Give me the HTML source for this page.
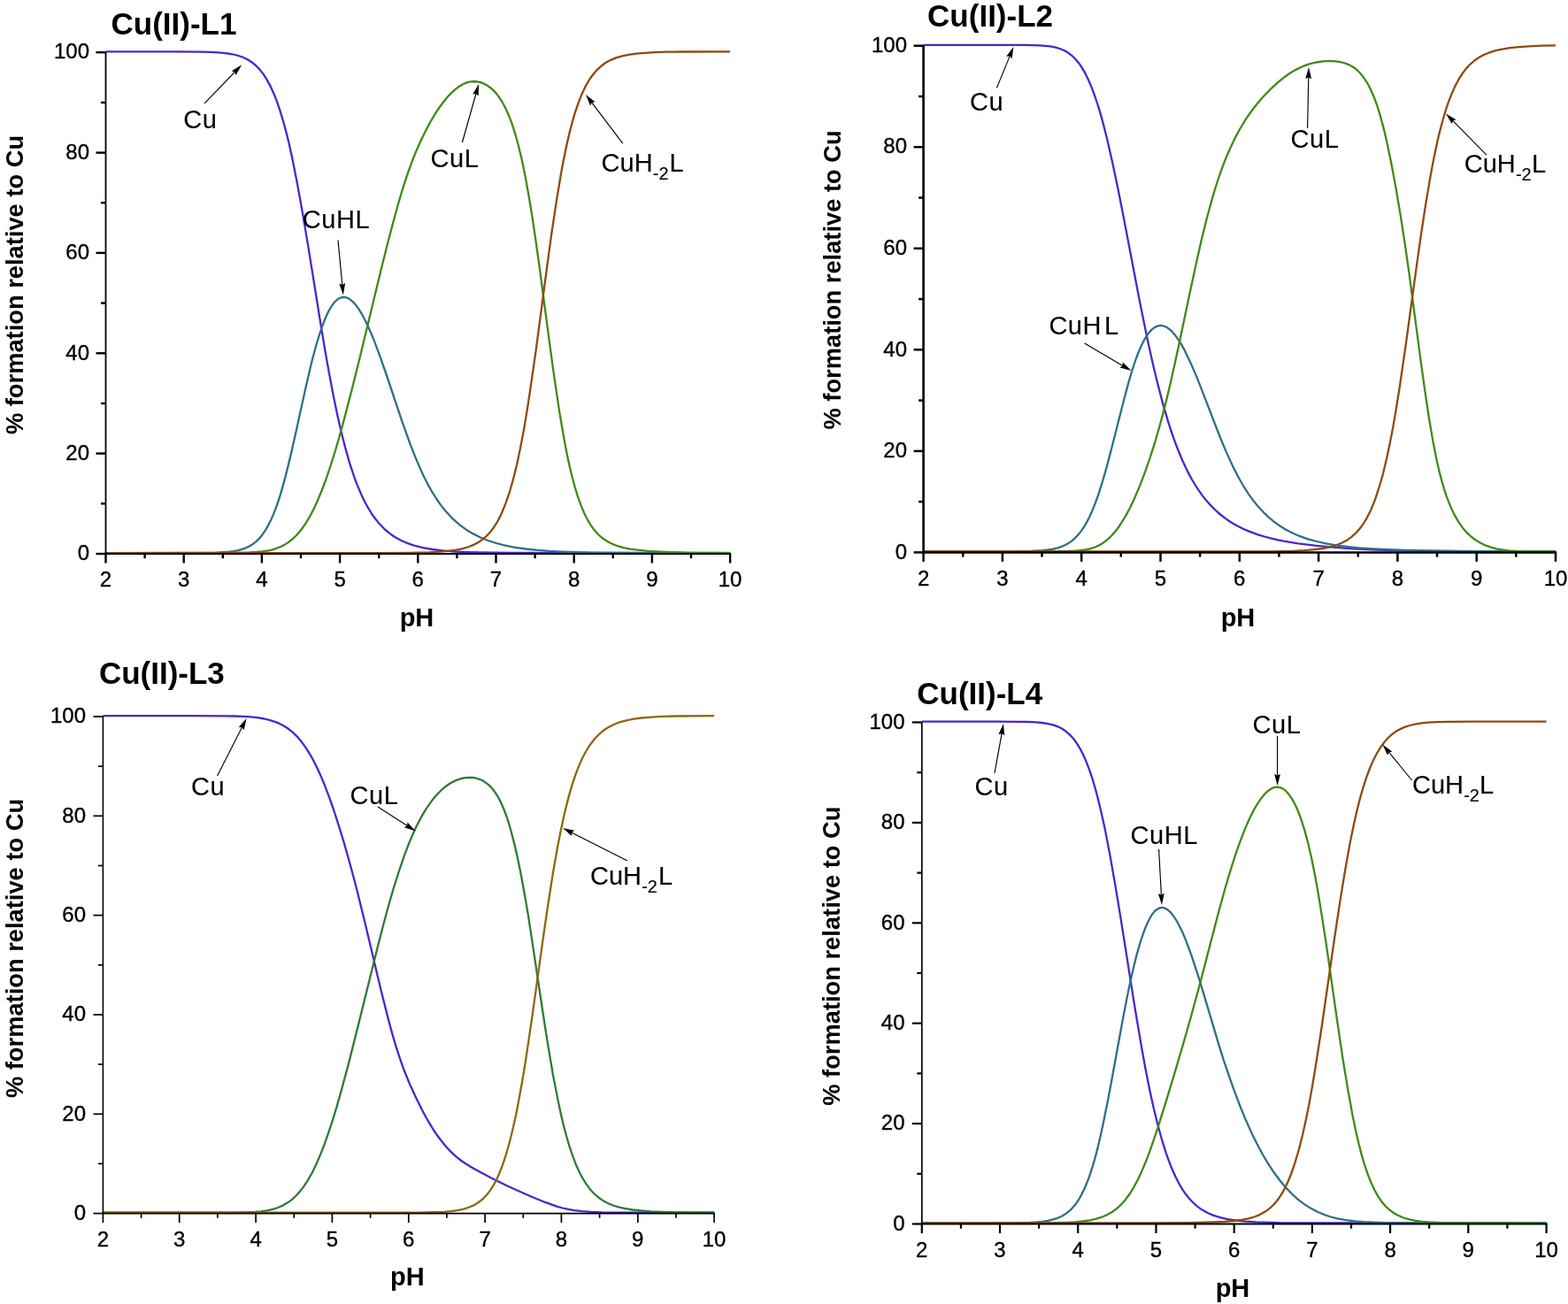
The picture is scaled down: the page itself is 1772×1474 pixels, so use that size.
<!DOCTYPE html>
<html><head><meta charset="utf-8"><title>Cu(II) speciation</title>
<style>
html,body{margin:0;padding:0;background:#fff;}
svg{display:block;}
text{font-family:'Liberation Sans', Arial, Helvetica, sans-serif;fill:#000;}
.tk{stroke:#000;stroke-width:0.35px;}
.lb{stroke:#000;stroke-width:0.1px;}
</style></head>
<body>
<svg width="1772" height="1474" viewBox="0 0 1772 1474">
<rect width="1772" height="1474" fill="#fff"/>
<g transform="translate(0,-0.9)">
<path d="M119.5,59.2 L196.9,59.2 L226.9,59.5 L237.9,59.8 L246.9,60.3 L254.4,61.0 L261.1,61.9 L267.9,63.4 L273.9,65.4 L279.4,67.9 L284.4,71.1 L289.1,74.9 L293.5,79.5 L297.7,84.8 L301.6,91.0 L305.6,98.3 L309.4,106.6 L312.9,115.5 L316.4,125.8 L319.9,137.4 L323.5,150.5 L326.8,164.0 L330.3,179.9 L336.0,208.6 L342.2,243.0 L348.2,278.8 L363.4,373.4 L367.8,399.5 L372.0,423.0 L376.6,447.4 L381.0,468.7 L385.4,488.2 L390.1,506.5 L395.3,525.0 L400.6,540.9 L403.3,548.0 L406.2,555.0 L409.0,561.5 L411.9,567.4 L415.0,573.2 L418.1,578.4 L421.1,583.2 L424.5,587.7 L427.8,591.8 L431.3,595.7 L435.0,599.4 L438.8,602.6 L442.1,605.1 L445.4,607.4 L448.9,609.5 L452.5,611.4 L456.2,613.2 L460.2,614.8 L464.4,616.3 L468.8,617.7 L478.0,620.0 L488.6,621.9 L500.5,623.3 L514.2,624.4 L526.5,625.0 L540.9,625.4 L578.8,625.9 L825.1,626.0" fill="none" stroke="#4a26cc" stroke-width="2.3" stroke-linejoin="round"/>
<path d="M119.5,626.0 L226.7,625.9 L245.0,625.5 L257.5,624.8 L263.7,624.0 L269.0,623.1 L273.6,621.8 L278.0,620.2 L282.2,618.2 L286.0,615.8 L289.5,613.0 L292.8,609.8 L296.3,605.6 L299.6,600.8 L302.7,595.6 L305.8,589.5 L308.9,582.5 L312.0,574.5 L314.9,566.2 L318.0,556.3 L322.8,538.8 L328.1,517.3 L333.2,495.0 L344.9,441.6 L351.2,414.3 L354.3,402.2 L357.4,390.9 L360.5,380.6 L363.4,371.9 L366.5,363.6 L369.5,356.4 L372.6,350.4 L375.7,345.5 L378.8,341.7 L380.4,340.2 L381.9,339.0 L383.4,338.1 L385.0,337.4 L386.5,337.0 L388.3,336.8 L389.8,336.9 L391.6,337.3 L393.1,337.9 L394.9,338.9 L398.2,341.5 L401.7,345.2 L405.3,350.0 L408.8,355.7 L412.5,362.7 L416.5,371.1 L419.8,378.7 L423.1,386.8 L430.2,405.7 L437.0,425.4 L454.4,477.3 L459.3,491.1 L463.9,503.7 L469.0,516.7 L473.8,528.2 L478.7,538.8 L483.3,548.0 L488.2,556.7 L493.0,564.4 L498.3,572.0 L503.6,578.6 L509.1,584.7 L514.9,590.2 L520.8,595.2 L527.2,599.8 L534.7,604.3 L542.9,608.4 L551.5,611.9 L560.9,614.9 L571.1,617.5 L582.1,619.7 L594.2,621.4 L607.5,622.8 L620.5,623.8 L635.2,624.5 L652.2,625.1 L672.3,625.5 L724.8,625.9 L825.1,626.0" fill="none" stroke="#2f6f86" stroke-width="2.3" stroke-linejoin="round"/>
<path d="M119.5,626.0 L260.0,625.9 L281.8,625.4 L289.7,624.9 L296.3,624.3 L303.6,623.2 L309.8,621.7 L315.5,619.6 L321.0,617.0 L326.1,613.8 L331.0,609.9 L335.6,605.4 L340.2,599.9 L345.1,593.1 L349.9,585.1 L354.8,575.8 L359.4,565.7 L364.0,554.4 L368.9,541.3 L373.7,526.9 L378.6,511.4 L382.8,497.1 L387.2,481.3 L396.9,444.3 L406.2,406.9 L430.6,305.8 L437.9,276.7 L443.9,253.8 L449.8,232.2 L455.3,213.6 L460.8,196.8 L466.1,182.2 L470.1,172.3 L474.1,163.2 L478.5,153.8 L482.9,145.1 L487.5,136.7 L491.9,129.4 L496.3,122.7 L501.0,116.4 L505.6,110.7 L510.0,106.0 L514.4,102.0 L518.6,98.8 L523.0,96.1 L527.2,94.3 L531.4,93.2 L535.6,92.9 L539.6,93.2 L543.3,94.1 L547.0,95.5 L550.8,97.6 L554.3,100.1 L557.9,103.3 L561.2,106.9 L564.2,111.0 L567.1,115.4 L570.0,120.6 L572.8,126.5 L575.5,132.6 L578.1,139.6 L580.8,147.5 L583.2,155.6 L585.6,164.5 L589.6,181.0 L593.6,200.1 L597.5,221.9 L601.5,246.2 L605.0,269.7 L608.8,296.4 L621.6,392.8 L626.9,431.0 L632.4,467.6 L637.5,497.2 L640.5,513.2 L643.6,527.6 L646.7,540.4 L649.8,551.9 L653.1,562.6 L656.4,571.8 L659.9,580.3 L663.7,587.9 L667.4,594.2 L671.6,600.0 L676.0,604.9 L680.9,609.2 L686.0,612.7 L691.7,615.7 L697.9,618.1 L704.7,620.0 L712.2,621.5 L720.6,622.6 L732.3,623.7 L745.7,624.5 L760.3,625.1 L777.3,625.5 L825.1,625.9" fill="none" stroke="#3f8a16" stroke-width="2.3" stroke-linejoin="round"/>
<path d="M119.5,626.0 L425.8,626.0 L461.9,625.7 L484.6,625.2 L496.8,624.6 L506.9,623.7 L515.5,622.5 L523.0,621.0 L529.9,618.9 L535.8,616.5 L541.1,613.6 L546.2,610.0 L549.3,607.3 L552.1,604.4 L555.0,601.1 L557.6,597.6 L560.3,593.6 L562.7,589.4 L565.1,584.8 L567.3,580.2 L571.7,569.3 L576.2,556.2 L580.3,541.4 L584.3,525.1 L587.8,508.5 L591.4,490.0 L594.9,469.5 L598.6,445.8 L605.5,398.0 L618.3,301.8 L623.3,265.1 L628.9,228.1 L634.1,196.6 L637.2,180.2 L640.5,164.3 L643.6,151.0 L646.9,138.3 L650.2,127.1 L653.8,116.7 L657.3,107.8 L661.0,99.8 L665.0,92.6 L669.2,86.4 L673.8,80.8 L678.7,76.2 L681.3,74.1 L684.0,72.2 L686.8,70.5 L689.7,69.0 L696.1,66.3 L703.2,64.2 L710.4,62.7 L718.8,61.6 L728.5,60.7 L740.0,60.0 L753.0,59.6 L769.5,59.4 L825.1,59.2" fill="none" stroke="#8e4a10" stroke-width="2.3" stroke-linejoin="round"/>
</g>
<line x1="119.5" y1="58.7" x2="119.5" y2="626.5" stroke="#000" stroke-width="1.8"/>
<line x1="118.6" y1="626.0" x2="826.1" y2="626.0" stroke="#000" stroke-width="2.0"/>
<line x1="108.5" y1="626.0" x2="119.5" y2="626.0" stroke="#000" stroke-width="2.4"/>
<text x="101.0" y="633.2" font-size="24" class="tk" text-anchor="end">0</text>
<line x1="114.0" y1="569.3" x2="119.5" y2="569.3" stroke="#000" stroke-width="2.4"/>
<line x1="108.5" y1="512.6" x2="119.5" y2="512.6" stroke="#000" stroke-width="2.4"/>
<text x="101.0" y="519.8" font-size="24" class="tk" text-anchor="end">20</text>
<line x1="114.0" y1="456.0" x2="119.5" y2="456.0" stroke="#000" stroke-width="2.4"/>
<line x1="108.5" y1="399.3" x2="119.5" y2="399.3" stroke="#000" stroke-width="2.4"/>
<text x="101.0" y="406.5" font-size="24" class="tk" text-anchor="end">40</text>
<line x1="114.0" y1="342.6" x2="119.5" y2="342.6" stroke="#000" stroke-width="2.4"/>
<line x1="108.5" y1="285.9" x2="119.5" y2="285.9" stroke="#000" stroke-width="2.4"/>
<text x="101.0" y="293.1" font-size="24" class="tk" text-anchor="end">60</text>
<line x1="114.0" y1="229.2" x2="119.5" y2="229.2" stroke="#000" stroke-width="2.4"/>
<line x1="108.5" y1="172.6" x2="119.5" y2="172.6" stroke="#000" stroke-width="2.4"/>
<text x="101.0" y="179.8" font-size="24" class="tk" text-anchor="end">80</text>
<line x1="114.0" y1="115.9" x2="119.5" y2="115.9" stroke="#000" stroke-width="2.4"/>
<line x1="108.5" y1="59.2" x2="119.5" y2="59.2" stroke="#000" stroke-width="2.4"/>
<text x="101.0" y="66.4" font-size="24" class="tk" text-anchor="end">100</text>
<line x1="119.5" y1="626.0" x2="119.5" y2="636.5" stroke="#000" stroke-width="2.4"/>
<text x="119.5" y="663.3" font-size="24" class="tk" text-anchor="middle">2</text>
<line x1="163.6" y1="626.0" x2="163.6" y2="631.2" stroke="#000" stroke-width="2.4"/>
<line x1="207.7" y1="626.0" x2="207.7" y2="636.5" stroke="#000" stroke-width="2.4"/>
<text x="207.7" y="663.3" font-size="24" class="tk" text-anchor="middle">3</text>
<line x1="251.8" y1="626.0" x2="251.8" y2="631.2" stroke="#000" stroke-width="2.4"/>
<line x1="295.9" y1="626.0" x2="295.9" y2="636.5" stroke="#000" stroke-width="2.4"/>
<text x="295.9" y="663.3" font-size="24" class="tk" text-anchor="middle">4</text>
<line x1="340.0" y1="626.0" x2="340.0" y2="631.2" stroke="#000" stroke-width="2.4"/>
<line x1="384.1" y1="626.0" x2="384.1" y2="636.5" stroke="#000" stroke-width="2.4"/>
<text x="384.1" y="663.3" font-size="24" class="tk" text-anchor="middle">5</text>
<line x1="428.2" y1="626.0" x2="428.2" y2="631.2" stroke="#000" stroke-width="2.4"/>
<line x1="472.3" y1="626.0" x2="472.3" y2="636.5" stroke="#000" stroke-width="2.4"/>
<text x="472.3" y="663.3" font-size="24" class="tk" text-anchor="middle">6</text>
<line x1="516.4" y1="626.0" x2="516.4" y2="631.2" stroke="#000" stroke-width="2.4"/>
<line x1="560.5" y1="626.0" x2="560.5" y2="636.5" stroke="#000" stroke-width="2.4"/>
<text x="560.5" y="663.3" font-size="24" class="tk" text-anchor="middle">7</text>
<line x1="604.6" y1="626.0" x2="604.6" y2="631.2" stroke="#000" stroke-width="2.4"/>
<line x1="648.7" y1="626.0" x2="648.7" y2="636.5" stroke="#000" stroke-width="2.4"/>
<text x="648.7" y="663.3" font-size="24" class="tk" text-anchor="middle">8</text>
<line x1="692.8" y1="626.0" x2="692.8" y2="631.2" stroke="#000" stroke-width="2.4"/>
<line x1="736.9" y1="626.0" x2="736.9" y2="636.5" stroke="#000" stroke-width="2.4"/>
<text x="736.9" y="663.3" font-size="24" class="tk" text-anchor="middle">9</text>
<line x1="781.0" y1="626.0" x2="781.0" y2="631.2" stroke="#000" stroke-width="2.4"/>
<line x1="825.1" y1="626.0" x2="825.1" y2="636.5" stroke="#000" stroke-width="2.4"/>
<text x="825.1" y="663.3" font-size="24" class="tk" text-anchor="middle">10</text>
<text transform="translate(26.4,322.0) rotate(-90)" font-size="27.3" font-weight="bold" text-anchor="middle">% formation relative to Cu</text>
<text x="471.0" y="708.1" font-size="29" font-weight="bold" text-anchor="middle">pH</text>
<text x="125.5" y="38.9" font-size="35" font-weight="bold">Cu(II)-L1</text>
<text x="207.3" y="145.4" font-size="29" class="lb" letter-spacing="0.6">Cu</text>
<text x="341.7" y="257.6" font-size="29" class="lb" letter-spacing="0.6">CuHL</text>
<text x="486.4" y="189.0" font-size="29" class="lb" letter-spacing="0.6">CuL</text>
<text x="679.6" y="193.5" font-size="29" class="lb">CuH<tspan x="737.8" font-size="20" dy="9">-2</tspan><tspan x="756.5" dy="-9">L</tspan></text>
<line x1="231.1" y1="116.9" x2="265.3" y2="81.4" stroke="#000" stroke-width="1.15"/><polygon points="273.2,73.2 266.6,84.9 265.3,81.4 261.7,80.2" fill="#000"/>
<line x1="382.0" y1="271.4" x2="386.8" y2="322.0" stroke="#000" stroke-width="1.15"/><polygon points="387.9,333.4 383.3,320.8 386.8,322.0 390.1,320.1" fill="#000"/>
<line x1="522.4" y1="161.0" x2="537.9" y2="106.0" stroke="#000" stroke-width="1.15"/><polygon points="541.0,95.0 540.7,108.4 537.9,106.0 534.2,106.6" fill="#000"/>
<line x1="703.8" y1="162.2" x2="668.9" y2="116.1" stroke="#000" stroke-width="1.15"/><polygon points="662.0,107.0 672.6,115.3 668.9,116.1 667.1,119.4" fill="#000"/>
<g transform="translate(0,-0.9)">
<path d="M1043.6,51.7 L1158.1,51.8 L1175.1,52.3 L1181.3,52.7 L1186.5,53.3 L1192.3,54.3 L1197.6,55.9 L1202.6,57.9 L1207.0,60.5 L1211.3,63.7 L1215.3,67.6 L1219.1,72.1 L1222.6,77.3 L1226.4,83.8 L1230.0,91.1 L1233.6,99.5 L1236.9,108.4 L1240.3,118.4 L1243.9,130.3 L1247.2,142.5 L1250.8,156.6 L1256.8,182.8 L1263.3,213.7 L1269.8,246.6 L1287.6,339.7 L1293.2,367.5 L1298.1,390.9 L1303.7,415.8 L1309.3,438.7 L1314.6,458.8 L1320.2,477.7 L1323.3,487.4 L1326.7,497.2 L1329.8,505.6 L1333.2,514.1 L1336.5,521.9 L1339.9,529.2 L1343.4,536.3 L1347.0,542.9 L1350.6,548.9 L1354.4,554.8 L1358.4,560.5 L1362.4,565.6 L1366.6,570.5 L1371.1,575.2 L1375.6,579.4 L1380.3,583.4 L1384.7,586.8 L1389.4,590.1 L1394.3,593.1 L1399.5,595.9 L1404.8,598.6 L1410.4,601.0 L1416.2,603.3 L1422.5,605.5 L1428.9,607.4 L1435.9,609.3 L1443.0,611.0 L1450.6,612.5 L1467.1,615.3 L1485.9,617.6 L1506.6,619.6 L1529.8,621.2 L1555.7,622.4 L1584.5,623.3 L1611.5,623.8 L1645.3,624.1 L1758.0,624.4" fill="none" stroke="#4a26cc" stroke-width="2.3" stroke-linejoin="round"/>
<path d="M1043.6,624.4 L1146.5,624.3 L1165.3,623.9 L1178.4,623.1 L1184.7,622.4 L1190.3,621.5 L1195.2,620.3 L1199.7,618.8 L1203.9,616.9 L1207.7,614.8 L1211.3,612.3 L1214.8,609.2 L1218.4,605.5 L1222.0,601.0 L1225.3,596.0 L1228.5,590.6 L1231.6,584.4 L1234.7,577.4 L1237.8,569.5 L1241.0,560.8 L1246.1,544.7 L1251.7,525.0 L1256.8,505.4 L1268.9,457.6 L1275.1,434.3 L1278.2,423.6 L1281.1,414.4 L1284.0,405.9 L1286.7,398.9 L1289.6,392.1 L1292.7,385.8 L1295.9,380.5 L1299.0,376.3 L1302.1,373.0 L1305.2,370.8 L1306.8,370.0 L1308.4,369.4 L1309.9,369.0 L1311.7,368.9 L1313.3,369.0 L1314.8,369.4 L1316.4,369.9 L1318.2,370.7 L1321.5,373.0 L1324.9,376.1 L1328.2,380.0 L1331.8,385.0 L1335.4,390.8 L1339.2,397.8 L1345.4,410.8 L1352.4,427.0 L1358.8,443.3 L1375.8,487.4 L1380.9,500.2 L1385.6,511.3 L1390.8,522.8 L1395.9,533.3 L1400.8,542.6 L1405.7,551.1 L1410.8,559.0 L1416.2,566.5 L1421.8,573.4 L1427.6,579.7 L1433.4,585.3 L1439.6,590.5 L1446.1,595.2 L1452.8,599.3 L1460.6,603.4 L1469.1,607.1 L1478.0,610.2 L1487.9,612.9 L1498.4,615.3 L1509.7,617.2 L1522.2,618.8 L1536.3,620.2 L1551.3,621.2 L1568.2,622.1 L1587.2,622.7 L1611.1,623.2 L1670.7,624.0 L1758.0,624.3" fill="none" stroke="#2f6f86" stroke-width="2.3" stroke-linejoin="round"/>
<path d="M1043.6,624.4 L1186.9,624.3 L1207.2,623.9 L1214.4,623.6 L1220.4,623.1 L1227.1,622.2 L1232.7,621.0 L1237.6,619.4 L1242.1,617.3 L1246.8,614.5 L1251.2,611.1 L1255.7,606.9 L1259.9,602.2 L1262.8,598.5 L1265.7,594.4 L1271.3,585.5 L1276.9,575.1 L1282.7,562.8 L1288.5,549.0 L1294.3,533.8 L1300.1,516.9 L1305.7,499.2 L1309.9,484.6 L1314.2,469.0 L1318.4,452.3 L1322.7,434.4 L1330.9,397.2 L1345.7,327.0 L1351.5,300.1 L1357.7,272.5 L1363.5,248.9 L1370.2,224.3 L1373.3,213.9 L1376.7,203.4 L1380.0,193.8 L1383.6,184.2 L1387.2,175.4 L1390.8,167.3 L1396.1,156.2 L1401.7,145.9 L1407.7,136.0 L1414.0,126.9 L1420.7,118.2 L1427.8,109.9 L1435.4,102.1 L1443.4,94.7 L1450.8,88.6 L1457.7,83.7 L1464.9,79.5 L1472.0,76.1 L1479.6,73.3 L1487.2,71.4 L1495.0,70.2 L1502.6,69.8 L1508.2,70.0 L1513.5,70.7 L1518.5,71.9 L1523.1,73.5 L1527.4,75.6 L1531.2,78.1 L1534.8,81.2 L1538.1,84.7 L1541.4,89.0 L1544.6,93.7 L1547.7,99.4 L1550.6,105.6 L1553.5,112.6 L1556.2,120.1 L1558.9,128.5 L1561.5,137.8 L1564.0,147.3 L1566.7,158.6 L1571.8,182.9 L1577.4,212.8 L1583.0,246.0 L1587.7,276.5 L1592.6,310.8 L1605.7,409.8 L1610.2,442.1 L1614.7,471.9 L1618.9,497.0 L1621.4,510.0 L1624.0,522.9 L1626.5,533.6 L1629.2,544.0 L1631.9,553.2 L1634.8,562.0 L1637.7,569.7 L1640.8,577.0 L1644.6,584.6 L1648.6,591.3 L1652.8,597.3 L1657.5,602.8 L1662.4,607.4 L1667.6,611.4 L1673.2,614.7 L1679.2,617.6 L1685.0,619.6 L1691.0,621.2 L1697.7,622.4 L1704.9,623.3 L1713.1,623.8 L1723.4,624.1 L1758.0,624.4" fill="none" stroke="#3f8a16" stroke-width="2.3" stroke-linejoin="round"/>
<path d="M1043.6,624.4 L1397.5,624.4 L1436.5,624.2 L1461.1,623.7 L1474.2,623.0 L1485.2,622.1 L1494.6,620.9 L1502.8,619.2 L1510.0,617.2 L1516.2,614.7 L1522.0,611.6 L1524.7,609.8 L1527.4,607.8 L1530.5,605.1 L1533.6,602.0 L1536.5,598.6 L1539.2,595.1 L1541.9,591.0 L1544.6,586.5 L1547.0,581.8 L1549.5,576.6 L1551.9,570.8 L1554.2,565.0 L1558.6,551.6 L1562.9,536.6 L1567.1,519.0 L1570.7,502.2 L1574.3,483.5 L1577.8,463.0 L1581.4,440.7 L1588.3,393.5 L1600.8,302.3 L1605.7,267.6 L1611.1,232.3 L1616.0,203.0 L1618.9,187.3 L1621.8,172.8 L1624.7,159.5 L1627.8,146.6 L1631.0,134.9 L1634.1,124.6 L1637.2,115.4 L1640.6,106.8 L1644.4,98.3 L1648.2,91.1 L1652.2,84.7 L1656.6,78.8 L1661.3,73.7 L1666.2,69.4 L1671.6,65.7 L1677.4,62.6 L1683.4,60.2 L1690.1,58.1 L1697.7,56.5 L1706.2,55.1 L1716.5,54.0 L1728.1,53.2 L1741.7,52.6 L1758.0,52.2" fill="none" stroke="#8e4a10" stroke-width="2.3" stroke-linejoin="round"/>
</g>
<line x1="1043.6" y1="51.2" x2="1043.6" y2="624.9" stroke="#000" stroke-width="2.6"/>
<line x1="1042.3" y1="624.4" x2="1759.2" y2="624.4" stroke="#000" stroke-width="2.5"/>
<line x1="1032.6" y1="624.4" x2="1043.6" y2="624.4" stroke="#000" stroke-width="2.5"/>
<text x="1025.0" y="631.6" font-size="24" class="tk" text-anchor="end">0</text>
<line x1="1038.1" y1="567.1" x2="1043.6" y2="567.1" stroke="#000" stroke-width="2.5"/>
<line x1="1032.6" y1="509.9" x2="1043.6" y2="509.9" stroke="#000" stroke-width="2.5"/>
<text x="1025.0" y="517.1" font-size="24" class="tk" text-anchor="end">20</text>
<line x1="1038.1" y1="452.6" x2="1043.6" y2="452.6" stroke="#000" stroke-width="2.5"/>
<line x1="1032.6" y1="395.3" x2="1043.6" y2="395.3" stroke="#000" stroke-width="2.5"/>
<text x="1025.0" y="402.5" font-size="24" class="tk" text-anchor="end">40</text>
<line x1="1038.1" y1="338.1" x2="1043.6" y2="338.1" stroke="#000" stroke-width="2.5"/>
<line x1="1032.6" y1="280.8" x2="1043.6" y2="280.8" stroke="#000" stroke-width="2.5"/>
<text x="1025.0" y="288.0" font-size="24" class="tk" text-anchor="end">60</text>
<line x1="1038.1" y1="223.5" x2="1043.6" y2="223.5" stroke="#000" stroke-width="2.5"/>
<line x1="1032.6" y1="166.2" x2="1043.6" y2="166.2" stroke="#000" stroke-width="2.5"/>
<text x="1025.0" y="173.4" font-size="24" class="tk" text-anchor="end">80</text>
<line x1="1038.1" y1="109.0" x2="1043.6" y2="109.0" stroke="#000" stroke-width="2.5"/>
<line x1="1032.6" y1="51.7" x2="1043.6" y2="51.7" stroke="#000" stroke-width="2.5"/>
<text x="1025.0" y="58.9" font-size="24" class="tk" text-anchor="end">100</text>
<line x1="1043.6" y1="624.4" x2="1043.6" y2="634.9" stroke="#000" stroke-width="2.5"/>
<text x="1043.6" y="661.7" font-size="24" class="tk" text-anchor="middle">2</text>
<line x1="1088.2" y1="624.4" x2="1088.2" y2="629.6" stroke="#000" stroke-width="2.5"/>
<line x1="1132.9" y1="624.4" x2="1132.9" y2="634.9" stroke="#000" stroke-width="2.5"/>
<text x="1132.9" y="661.7" font-size="24" class="tk" text-anchor="middle">3</text>
<line x1="1177.5" y1="624.4" x2="1177.5" y2="629.6" stroke="#000" stroke-width="2.5"/>
<line x1="1222.2" y1="624.4" x2="1222.2" y2="634.9" stroke="#000" stroke-width="2.5"/>
<text x="1222.2" y="661.7" font-size="24" class="tk" text-anchor="middle">4</text>
<line x1="1266.8" y1="624.4" x2="1266.8" y2="629.6" stroke="#000" stroke-width="2.5"/>
<line x1="1311.5" y1="624.4" x2="1311.5" y2="634.9" stroke="#000" stroke-width="2.5"/>
<text x="1311.5" y="661.7" font-size="24" class="tk" text-anchor="middle">5</text>
<line x1="1356.1" y1="624.4" x2="1356.1" y2="629.6" stroke="#000" stroke-width="2.5"/>
<line x1="1400.8" y1="624.4" x2="1400.8" y2="634.9" stroke="#000" stroke-width="2.5"/>
<text x="1400.8" y="661.7" font-size="24" class="tk" text-anchor="middle">6</text>
<line x1="1445.4" y1="624.4" x2="1445.4" y2="629.6" stroke="#000" stroke-width="2.5"/>
<line x1="1490.1" y1="624.4" x2="1490.1" y2="634.9" stroke="#000" stroke-width="2.5"/>
<text x="1490.1" y="661.7" font-size="24" class="tk" text-anchor="middle">7</text>
<line x1="1534.8" y1="624.4" x2="1534.8" y2="629.6" stroke="#000" stroke-width="2.5"/>
<line x1="1579.4" y1="624.4" x2="1579.4" y2="634.9" stroke="#000" stroke-width="2.5"/>
<text x="1579.4" y="661.7" font-size="24" class="tk" text-anchor="middle">8</text>
<line x1="1624.0" y1="624.4" x2="1624.0" y2="629.6" stroke="#000" stroke-width="2.5"/>
<line x1="1668.7" y1="624.4" x2="1668.7" y2="634.9" stroke="#000" stroke-width="2.5"/>
<text x="1668.7" y="661.7" font-size="24" class="tk" text-anchor="middle">9</text>
<line x1="1713.3" y1="624.4" x2="1713.3" y2="629.6" stroke="#000" stroke-width="2.5"/>
<line x1="1758.0" y1="624.4" x2="1758.0" y2="634.9" stroke="#000" stroke-width="2.5"/>
<text x="1758.0" y="661.7" font-size="24" class="tk" text-anchor="middle">10</text>
<text transform="translate(949.7,316.4) rotate(-90)" font-size="27.3" font-weight="bold" text-anchor="middle">% formation relative to Cu</text>
<text x="1399.0" y="708.1" font-size="29" font-weight="bold" text-anchor="middle">pH</text>
<text x="1048.1" y="30.2" font-size="35" font-weight="bold">Cu(II)-L2</text>
<text x="1096.0" y="125.0" font-size="29" class="lb" letter-spacing="0.6">Cu</text>
<text x="1185.4" y="378.0" font-size="29" class="lb" letter-spacing="0.5">CuH<tspan dx="3">L</tspan></text>
<text x="1458.4" y="167.4" font-size="29" class="lb" letter-spacing="0.6">CuL</text>
<text x="1654.7" y="195.0" font-size="29" class="lb">CuH<tspan x="1712.9" font-size="20" dy="9">-2</tspan><tspan x="1731.1" dy="-9">L</tspan></text>
<line x1="1126.4" y1="99.4" x2="1141.1" y2="63.6" stroke="#000" stroke-width="1.15"/><polygon points="1145.4,53.0 1143.6,66.3 1141.1,63.6 1137.3,63.7" fill="#000"/>
<line x1="1225.6" y1="388.0" x2="1268.5" y2="413.2" stroke="#000" stroke-width="1.15"/><polygon points="1278.4,419.0 1265.5,415.4 1268.5,413.2 1268.9,409.5" fill="#000"/>
<line x1="1477.6" y1="145.0" x2="1478.8" y2="87.4" stroke="#000" stroke-width="1.15"/><polygon points="1479.0,76.0 1482.1,89.1 1478.8,87.4 1475.3,88.9" fill="#000"/>
<line x1="1679.9" y1="175.1" x2="1642.0" y2="136.6" stroke="#000" stroke-width="1.15"/><polygon points="1634.0,128.4 1645.5,135.3 1642.0,136.6 1640.7,140.1" fill="#000"/>
<g transform="translate(0,-0.9)">
<path d="M116.4,810.0 L218.9,810.0 L252.8,810.2 L265.3,810.4 L275.3,810.8 L283.5,811.3 L290.6,812.0 L298.8,813.4 L306.1,815.2 L312.8,817.5 L318.9,820.4 L324.7,823.9 L330.1,828.1 L335.3,833.0 L340.2,838.7 L345.6,846.0 L351.0,854.7 L356.2,864.4 L361.4,875.3 L366.6,887.7 L372.0,901.8 L377.6,917.9 L383.4,936.0 L388.4,952.3 L393.3,969.5 L398.3,987.6 L403.3,1006.6 L412.1,1042.4 L430.9,1121.6 L439.3,1154.8 L443.6,1170.5 L447.9,1185.0 L452.0,1197.6 L456.1,1209.1 L462.6,1225.3 L470.0,1241.5 L478.2,1257.9 L482.3,1265.4 L486.2,1272.0 L489.8,1277.9 L493.7,1283.7 L497.4,1288.7 L501.3,1293.7 L505.1,1298.2 L509.0,1302.3 L512.9,1306.0 L517.0,1309.5 L521.3,1312.9 L526.1,1316.2 L531.3,1319.4 L537.3,1323.0 L554.6,1332.2 L573.8,1341.6 L598.4,1352.6 L616.5,1360.1 L623.4,1362.6 L629.7,1364.7 L635.7,1366.4 L641.8,1367.8 L649.1,1369.1 L657.8,1370.1 L667.9,1370.8 L680.6,1371.2 L714.7,1371.5 L807.1,1371.6" fill="none" stroke="#4a26cc" stroke-width="2.3" stroke-linejoin="round"/>
<path d="M116.4,1371.6 L259.7,1371.5 L280.9,1371.1 L288.4,1370.7 L294.9,1370.2 L302.0,1369.2 L308.5,1367.7 L314.3,1365.9 L319.7,1363.5 L324.9,1360.5 L329.7,1357.0 L334.2,1352.9 L338.7,1348.0 L343.5,1341.8 L348.2,1334.5 L352.8,1326.4 L357.3,1317.1 L361.8,1306.7 L366.4,1295.1 L371.1,1281.8 L375.9,1267.2 L380.0,1253.8 L384.3,1238.8 L393.6,1204.5 L402.6,1168.8 L426.4,1072.9 L432.6,1048.6 L438.2,1027.7 L444.7,1005.2 L450.8,985.9 L456.8,968.3 L462.8,952.6 L466.5,944.0 L470.4,935.5 L474.3,927.8 L478.2,920.8 L482.0,914.5 L486.2,908.5 L490.3,903.1 L494.4,898.4 L498.7,894.1 L503.0,890.4 L507.5,887.2 L512.1,884.5 L516.6,882.5 L521.3,880.9 L526.1,880.0 L530.6,879.7 L534.5,879.9 L538.2,880.5 L541.8,881.7 L545.3,883.2 L548.5,885.2 L551.8,887.7 L554.8,890.6 L557.6,893.9 L560.2,897.5 L562.8,901.7 L565.4,906.5 L567.7,911.6 L570.1,917.4 L572.5,923.9 L574.9,931.2 L577.2,939.2 L581.1,954.0 L585.0,971.0 L588.9,990.1 L593.0,1012.6 L596.5,1033.0 L600.3,1057.5 L613.5,1145.4 L619.1,1181.3 L624.9,1215.6 L630.6,1244.8 L633.8,1259.8 L637.0,1273.4 L640.3,1285.7 L643.7,1297.3 L647.2,1307.6 L650.6,1316.6 L654.3,1324.9 L658.2,1332.4 L662.3,1339.0 L666.6,1344.8 L671.1,1349.9 L675.9,1354.1 L681.1,1357.8 L686.7,1360.9 L692.7,1363.4 L699.6,1365.5 L706.7,1367.1 L714.7,1368.4 L724.4,1369.4 L735.7,1370.2 L748.2,1370.8 L763.3,1371.2 L807.1,1371.5" fill="none" stroke="#2f7a36" stroke-width="2.3" stroke-linejoin="round"/>
<path d="M116.4,1371.6 L443.6,1371.6 L473.6,1371.5 L491.5,1371.1 L501.7,1370.7 L509.9,1370.0 L517.0,1369.0 L523.3,1367.7 L529.1,1365.9 L534.3,1363.8 L539.0,1361.1 L543.4,1358.0 L546.2,1355.6 L549.0,1352.7 L551.6,1349.7 L554.1,1346.2 L556.5,1342.6 L558.9,1338.5 L561.3,1333.9 L563.4,1329.3 L567.7,1318.6 L571.8,1306.3 L575.9,1291.9 L579.8,1276.0 L583.3,1260.1 L586.7,1242.3 L590.2,1222.9 L593.9,1200.6 L600.8,1154.5 L613.7,1062.0 L619.1,1024.9 L624.9,987.8 L630.3,957.1 L633.6,940.5 L636.8,925.4 L640.1,911.6 L643.5,898.5 L647.0,886.8 L650.4,876.5 L654.1,867.0 L658.0,858.2 L662.1,850.4 L666.6,843.1 L671.4,836.9 L676.3,831.5 L678.9,829.2 L681.7,826.9 L684.5,824.9 L687.5,823.0 L693.8,819.9 L697.3,818.4 L700.9,817.1 L708.0,815.2 L716.2,813.6 L725.3,812.4 L735.9,811.5 L748.0,810.8 L762.7,810.4 L807.1,810.1" fill="none" stroke="#8c680c" stroke-width="2.3" stroke-linejoin="round"/>
</g>
<line x1="116.4" y1="809.5" x2="116.4" y2="1372.1" stroke="#000" stroke-width="1.6"/>
<line x1="115.6" y1="1371.6" x2="808.0" y2="1371.6" stroke="#000" stroke-width="1.8"/>
<line x1="105.4" y1="1371.6" x2="116.4" y2="1371.6" stroke="#000" stroke-width="1.7"/>
<text x="97.0" y="1378.8" font-size="24" class="tk" text-anchor="end">0</text>
<line x1="110.9" y1="1315.4" x2="116.4" y2="1315.4" stroke="#000" stroke-width="1.7"/>
<line x1="105.4" y1="1259.3" x2="116.4" y2="1259.3" stroke="#000" stroke-width="1.7"/>
<text x="97.0" y="1266.5" font-size="24" class="tk" text-anchor="end">20</text>
<line x1="110.9" y1="1203.1" x2="116.4" y2="1203.1" stroke="#000" stroke-width="1.7"/>
<line x1="105.4" y1="1147.0" x2="116.4" y2="1147.0" stroke="#000" stroke-width="1.7"/>
<text x="97.0" y="1154.2" font-size="24" class="tk" text-anchor="end">40</text>
<line x1="110.9" y1="1090.8" x2="116.4" y2="1090.8" stroke="#000" stroke-width="1.7"/>
<line x1="105.4" y1="1034.6" x2="116.4" y2="1034.6" stroke="#000" stroke-width="1.7"/>
<text x="97.0" y="1041.8" font-size="24" class="tk" text-anchor="end">60</text>
<line x1="110.9" y1="978.5" x2="116.4" y2="978.5" stroke="#000" stroke-width="1.7"/>
<line x1="105.4" y1="922.3" x2="116.4" y2="922.3" stroke="#000" stroke-width="1.7"/>
<text x="97.0" y="929.5" font-size="24" class="tk" text-anchor="end">80</text>
<line x1="110.9" y1="866.2" x2="116.4" y2="866.2" stroke="#000" stroke-width="1.7"/>
<line x1="105.4" y1="810.0" x2="116.4" y2="810.0" stroke="#000" stroke-width="1.7"/>
<text x="97.0" y="817.2" font-size="24" class="tk" text-anchor="end">100</text>
<line x1="116.4" y1="1371.6" x2="116.4" y2="1382.1" stroke="#000" stroke-width="1.7"/>
<text x="116.4" y="1408.9" font-size="24" class="tk" text-anchor="middle">2</text>
<line x1="159.6" y1="1371.6" x2="159.6" y2="1376.8" stroke="#000" stroke-width="1.7"/>
<line x1="202.7" y1="1371.6" x2="202.7" y2="1382.1" stroke="#000" stroke-width="1.7"/>
<text x="202.7" y="1408.9" font-size="24" class="tk" text-anchor="middle">3</text>
<line x1="245.9" y1="1371.6" x2="245.9" y2="1376.8" stroke="#000" stroke-width="1.7"/>
<line x1="289.1" y1="1371.6" x2="289.1" y2="1382.1" stroke="#000" stroke-width="1.7"/>
<text x="289.1" y="1408.9" font-size="24" class="tk" text-anchor="middle">4</text>
<line x1="332.2" y1="1371.6" x2="332.2" y2="1376.8" stroke="#000" stroke-width="1.7"/>
<line x1="375.4" y1="1371.6" x2="375.4" y2="1382.1" stroke="#000" stroke-width="1.7"/>
<text x="375.4" y="1408.9" font-size="24" class="tk" text-anchor="middle">5</text>
<line x1="418.6" y1="1371.6" x2="418.6" y2="1376.8" stroke="#000" stroke-width="1.7"/>
<line x1="461.8" y1="1371.6" x2="461.8" y2="1382.1" stroke="#000" stroke-width="1.7"/>
<text x="461.8" y="1408.9" font-size="24" class="tk" text-anchor="middle">6</text>
<line x1="504.9" y1="1371.6" x2="504.9" y2="1376.8" stroke="#000" stroke-width="1.7"/>
<line x1="548.1" y1="1371.6" x2="548.1" y2="1382.1" stroke="#000" stroke-width="1.7"/>
<text x="548.1" y="1408.9" font-size="24" class="tk" text-anchor="middle">7</text>
<line x1="591.3" y1="1371.6" x2="591.3" y2="1376.8" stroke="#000" stroke-width="1.7"/>
<line x1="634.4" y1="1371.6" x2="634.4" y2="1382.1" stroke="#000" stroke-width="1.7"/>
<text x="634.4" y="1408.9" font-size="24" class="tk" text-anchor="middle">8</text>
<line x1="677.6" y1="1371.6" x2="677.6" y2="1376.8" stroke="#000" stroke-width="1.7"/>
<line x1="720.8" y1="1371.6" x2="720.8" y2="1382.1" stroke="#000" stroke-width="1.7"/>
<text x="720.8" y="1408.9" font-size="24" class="tk" text-anchor="middle">9</text>
<line x1="764.0" y1="1371.6" x2="764.0" y2="1376.8" stroke="#000" stroke-width="1.7"/>
<line x1="807.1" y1="1371.6" x2="807.1" y2="1382.1" stroke="#000" stroke-width="1.7"/>
<text x="807.1" y="1408.9" font-size="24" class="tk" text-anchor="middle">10</text>
<text transform="translate(25.8,1072.0) rotate(-90)" font-size="27.3" font-weight="bold" text-anchor="middle">% formation relative to Cu</text>
<text x="460.4" y="1452.7" font-size="29" font-weight="bold" text-anchor="middle">pH</text>
<text x="111.9" y="772.6" font-size="35" font-weight="bold">Cu(II)-L3</text>
<text x="215.9" y="899.0" font-size="29" class="lb" letter-spacing="0.6">Cu</text>
<text x="395.4" y="909.0" font-size="29" class="lb" letter-spacing="0.6">CuL</text>
<text x="667.0" y="1000.0" font-size="29" class="lb">CuH<tspan x="725.2" font-size="20" dy="9">-2</tspan><tspan x="743.9" dy="-9">L</tspan></text>
<line x1="245.6" y1="877.0" x2="273.4" y2="822.2" stroke="#000" stroke-width="1.15"/><polygon points="278.6,812.0 275.7,825.1 273.4,822.2 269.7,822.1" fill="#000"/>
<line x1="427.0" y1="912.0" x2="460.0" y2="933.2" stroke="#000" stroke-width="1.15"/><polygon points="469.6,939.4 456.8,935.2 460.0,933.2 460.5,929.5" fill="#000"/>
<line x1="709.0" y1="973.0" x2="646.2" y2="941.2" stroke="#000" stroke-width="1.15"/><polygon points="636.0,936.0 649.1,938.8 646.2,941.2 646.1,944.9" fill="#000"/>
<g transform="translate(0,-0.9)">
<path d="M1041.8,816.5 L1124.3,816.5 L1152.1,816.7 L1162.2,816.9 L1170.4,817.3 L1177.2,817.9 L1183.0,818.7 L1189.1,820.0 L1194.4,821.8 L1199.5,824.2 L1204.1,827.2 L1208.5,831.0 L1212.5,835.2 L1216.5,840.5 L1220.2,846.5 L1224.0,853.7 L1227.7,862.2 L1231.3,871.5 L1234.8,882.1 L1238.3,894.2 L1241.6,906.8 L1245.1,921.7 L1248.7,938.0 L1254.4,967.5 L1260.8,1004.0 L1267.0,1041.8 L1282.2,1138.2 L1290.6,1187.7 L1295.0,1211.6 L1299.4,1233.6 L1303.8,1253.7 L1308.0,1270.9 L1312.9,1288.7 L1317.9,1304.8 L1320.6,1312.2 L1323.2,1319.1 L1325.9,1325.4 L1328.5,1331.2 L1331.2,1336.4 L1334.0,1341.6 L1336.9,1346.2 L1340.0,1350.7 L1343.1,1354.6 L1346.2,1358.1 L1349.5,1361.4 L1353.0,1364.5 L1358.5,1368.5 L1364.7,1371.9 L1371.3,1374.8 L1378.8,1377.1 L1387.0,1379.0 L1396.2,1380.4 L1406.8,1381.5 L1419.4,1382.3 L1445.4,1383.1 L1484.4,1383.4 L1747.6,1383.5" fill="none" stroke="#4a26cc" stroke-width="2.3" stroke-linejoin="round"/>
<path d="M1041.8,1383.5 L1116.1,1383.5 L1145.0,1383.3 L1164.4,1382.8 L1171.7,1382.3 L1177.9,1381.7 L1184.5,1380.7 L1190.2,1379.3 L1195.3,1377.7 L1199.9,1375.6 L1204.1,1373.1 L1208.1,1370.1 L1211.8,1366.5 L1215.4,1362.3 L1218.9,1357.2 L1222.4,1351.0 L1225.7,1344.2 L1228.8,1336.7 L1231.9,1328.2 L1235.0,1318.5 L1237.9,1308.5 L1241.0,1296.5 L1246.0,1274.4 L1251.3,1248.4 L1256.2,1222.7 L1268.3,1156.1 L1274.7,1123.3 L1278.0,1107.7 L1281.1,1094.2 L1284.2,1081.8 L1287.3,1070.6 L1290.6,1060.0 L1293.7,1051.4 L1297.0,1043.6 L1300.1,1037.7 L1301.8,1034.9 L1303.4,1032.8 L1304.9,1031.0 L1306.5,1029.6 L1308.0,1028.5 L1309.8,1027.6 L1311.3,1027.1 L1313.1,1026.9 L1314.6,1027.1 L1316.2,1027.5 L1317.7,1028.2 L1319.5,1029.2 L1321.0,1030.5 L1322.8,1032.2 L1326.1,1036.2 L1329.6,1041.6 L1333.1,1048.1 L1336.7,1055.5 L1340.4,1064.5 L1346.6,1081.2 L1353.2,1101.2 L1359.6,1122.0 L1377.0,1180.6 L1382.5,1198.2 L1388.1,1214.8 L1394.7,1233.6 L1401.1,1250.4 L1407.5,1266.0 L1414.1,1280.8 L1420.3,1293.4 L1426.7,1305.4 L1433.1,1316.2 L1439.7,1326.2 L1446.3,1335.2 L1453.1,1343.3 L1460.2,1350.7 L1467.2,1357.0 L1473.9,1362.0 L1480.9,1366.5 L1488.2,1370.4 L1495.9,1373.7 L1503.9,1376.4 L1512.2,1378.5 L1521.1,1380.1 L1531.2,1381.3 L1540.9,1382.1 L1552.4,1382.6 L1565.8,1383.0 L1582.6,1383.3 L1627.8,1383.5 L1747.6,1383.5" fill="none" stroke="#2f6f86" stroke-width="2.3" stroke-linejoin="round"/>
<path d="M1041.8,1383.5 L1144.8,1383.5 L1181.8,1383.3 L1195.5,1383.1 L1206.6,1382.7 L1215.6,1382.2 L1223.5,1381.4 L1231.7,1380.3 L1239.0,1378.6 L1245.4,1376.6 L1251.3,1374.0 L1256.8,1370.9 L1262.1,1367.0 L1267.0,1362.5 L1271.6,1357.3 L1276.5,1350.7 L1281.1,1343.3 L1285.7,1334.6 L1290.1,1325.3 L1294.8,1314.2 L1299.4,1302.1 L1304.5,1287.6 L1310.2,1270.1 L1318.1,1244.8 L1327.4,1214.1 L1337.1,1181.1 L1345.7,1150.9 L1356.7,1110.5 L1377.0,1032.4 L1385.2,1002.7 L1389.4,988.5 L1393.4,975.7 L1397.3,963.7 L1401.3,952.5 L1406.8,938.3 L1412.1,926.2 L1417.4,915.7 L1420.0,911.1 L1422.7,907.0 L1425.3,903.3 L1428.0,900.0 L1430.6,897.1 L1433.3,894.8 L1435.9,892.9 L1438.3,891.6 L1440.8,890.8 L1443.2,890.5 L1445.4,890.7 L1447.8,891.5 L1450.3,892.8 L1452.7,894.6 L1455.1,897.1 L1457.3,899.8 L1459.5,903.0 L1461.7,906.7 L1463.9,911.0 L1466.1,915.9 L1468.3,921.3 L1470.3,926.8 L1474.3,939.3 L1478.3,954.2 L1481.8,969.4 L1485.1,985.5 L1488.4,1003.3 L1491.9,1024.0 L1498.6,1066.8 L1511.8,1159.2 L1517.3,1196.2 L1523.3,1232.9 L1528.8,1262.9 L1532.1,1278.8 L1535.4,1293.2 L1538.7,1306.0 L1542.2,1318.0 L1545.8,1328.4 L1549.5,1337.9 L1553.3,1345.9 L1557.2,1353.0 L1561.2,1358.8 L1565.4,1363.9 L1570.0,1368.3 L1574.9,1371.9 L1580.2,1374.9 L1586.1,1377.4 L1592.7,1379.3 L1600.0,1380.7 L1607.1,1381.7 L1615.5,1382.4 L1625.2,1382.8 L1637.1,1383.2 L1669.3,1383.4 L1747.6,1383.5" fill="none" stroke="#3f8a16" stroke-width="2.3" stroke-linejoin="round"/>
<path d="M1041.8,1383.5 L1305.1,1383.4 L1345.1,1383.1 L1371.5,1382.4 L1384.3,1381.8 L1394.9,1380.9 L1403.5,1379.8 L1410.8,1378.3 L1417.6,1376.4 L1423.6,1374.0 L1429.1,1371.0 L1433.9,1367.5 L1436.8,1365.1 L1439.7,1362.2 L1442.3,1359.1 L1445.0,1355.7 L1447.6,1351.8 L1450.0,1347.7 L1452.5,1343.1 L1454.7,1338.5 L1459.1,1327.9 L1463.5,1315.2 L1467.7,1300.9 L1471.9,1284.4 L1475.4,1268.7 L1479.2,1250.1 L1482.9,1229.6 L1486.6,1207.4 L1493.9,1160.2 L1507.8,1063.4 L1513.8,1023.5 L1520.2,984.0 L1526.1,951.3 L1529.9,933.1 L1533.4,917.5 L1536.9,903.6 L1540.7,890.5 L1544.4,879.0 L1548.4,868.4 L1552.4,859.4 L1556.6,851.4 L1560.8,844.7 L1565.2,838.8 L1567.6,836.1 L1570.0,833.7 L1572.4,831.5 L1575.1,829.5 L1577.7,827.7 L1580.6,825.9 L1583.5,824.5 L1586.6,823.1 L1593.2,820.9 L1600.5,819.3 L1606.8,818.3 L1614.3,817.6 L1623.4,817.1 L1634.6,816.8 L1664.6,816.5 L1747.6,816.5" fill="none" stroke="#8e4a10" stroke-width="2.3" stroke-linejoin="round"/>
</g>
<line x1="1041.8" y1="816.0" x2="1041.8" y2="1384.0" stroke="#000" stroke-width="1.7"/>
<line x1="1041.0" y1="1383.5" x2="1748.7" y2="1383.5" stroke="#000" stroke-width="2.2"/>
<line x1="1030.8" y1="1383.5" x2="1041.8" y2="1383.5" stroke="#000" stroke-width="2.2"/>
<text x="1022.5" y="1390.7" font-size="24" class="tk" text-anchor="end">0</text>
<line x1="1036.3" y1="1326.8" x2="1041.8" y2="1326.8" stroke="#000" stroke-width="2.2"/>
<line x1="1030.8" y1="1270.1" x2="1041.8" y2="1270.1" stroke="#000" stroke-width="2.2"/>
<text x="1022.5" y="1277.3" font-size="24" class="tk" text-anchor="end">20</text>
<line x1="1036.3" y1="1213.4" x2="1041.8" y2="1213.4" stroke="#000" stroke-width="2.2"/>
<line x1="1030.8" y1="1156.7" x2="1041.8" y2="1156.7" stroke="#000" stroke-width="2.2"/>
<text x="1022.5" y="1163.9" font-size="24" class="tk" text-anchor="end">40</text>
<line x1="1036.3" y1="1100.0" x2="1041.8" y2="1100.0" stroke="#000" stroke-width="2.2"/>
<line x1="1030.8" y1="1043.3" x2="1041.8" y2="1043.3" stroke="#000" stroke-width="2.2"/>
<text x="1022.5" y="1050.5" font-size="24" class="tk" text-anchor="end">60</text>
<line x1="1036.3" y1="986.6" x2="1041.8" y2="986.6" stroke="#000" stroke-width="2.2"/>
<line x1="1030.8" y1="929.9" x2="1041.8" y2="929.9" stroke="#000" stroke-width="2.2"/>
<text x="1022.5" y="937.1" font-size="24" class="tk" text-anchor="end">80</text>
<line x1="1036.3" y1="873.2" x2="1041.8" y2="873.2" stroke="#000" stroke-width="2.2"/>
<line x1="1030.8" y1="816.5" x2="1041.8" y2="816.5" stroke="#000" stroke-width="2.2"/>
<text x="1022.5" y="823.7" font-size="24" class="tk" text-anchor="end">100</text>
<line x1="1041.8" y1="1383.5" x2="1041.8" y2="1394.0" stroke="#000" stroke-width="2.2"/>
<text x="1041.8" y="1420.8" font-size="24" class="tk" text-anchor="middle">2</text>
<line x1="1085.9" y1="1383.5" x2="1085.9" y2="1388.7" stroke="#000" stroke-width="2.2"/>
<line x1="1130.0" y1="1383.5" x2="1130.0" y2="1394.0" stroke="#000" stroke-width="2.2"/>
<text x="1130.0" y="1420.8" font-size="24" class="tk" text-anchor="middle">3</text>
<line x1="1174.1" y1="1383.5" x2="1174.1" y2="1388.7" stroke="#000" stroke-width="2.2"/>
<line x1="1218.2" y1="1383.5" x2="1218.2" y2="1394.0" stroke="#000" stroke-width="2.2"/>
<text x="1218.2" y="1420.8" font-size="24" class="tk" text-anchor="middle">4</text>
<line x1="1262.3" y1="1383.5" x2="1262.3" y2="1388.7" stroke="#000" stroke-width="2.2"/>
<line x1="1306.5" y1="1383.5" x2="1306.5" y2="1394.0" stroke="#000" stroke-width="2.2"/>
<text x="1306.5" y="1420.8" font-size="24" class="tk" text-anchor="middle">5</text>
<line x1="1350.6" y1="1383.5" x2="1350.6" y2="1388.7" stroke="#000" stroke-width="2.2"/>
<line x1="1394.7" y1="1383.5" x2="1394.7" y2="1394.0" stroke="#000" stroke-width="2.2"/>
<text x="1394.7" y="1420.8" font-size="24" class="tk" text-anchor="middle">6</text>
<line x1="1438.8" y1="1383.5" x2="1438.8" y2="1388.7" stroke="#000" stroke-width="2.2"/>
<line x1="1482.9" y1="1383.5" x2="1482.9" y2="1394.0" stroke="#000" stroke-width="2.2"/>
<text x="1482.9" y="1420.8" font-size="24" class="tk" text-anchor="middle">7</text>
<line x1="1527.0" y1="1383.5" x2="1527.0" y2="1388.7" stroke="#000" stroke-width="2.2"/>
<line x1="1571.1" y1="1383.5" x2="1571.1" y2="1394.0" stroke="#000" stroke-width="2.2"/>
<text x="1571.1" y="1420.8" font-size="24" class="tk" text-anchor="middle">8</text>
<line x1="1615.2" y1="1383.5" x2="1615.2" y2="1388.7" stroke="#000" stroke-width="2.2"/>
<line x1="1659.3" y1="1383.5" x2="1659.3" y2="1394.0" stroke="#000" stroke-width="2.2"/>
<text x="1659.3" y="1420.8" font-size="24" class="tk" text-anchor="middle">9</text>
<line x1="1703.4" y1="1383.5" x2="1703.4" y2="1388.7" stroke="#000" stroke-width="2.2"/>
<line x1="1747.6" y1="1383.5" x2="1747.6" y2="1394.0" stroke="#000" stroke-width="2.2"/>
<text x="1747.6" y="1420.8" font-size="24" class="tk" text-anchor="middle">10</text>
<text transform="translate(948.7,1080.7) rotate(-90)" font-size="27.3" font-weight="bold" text-anchor="middle">% formation relative to Cu</text>
<text x="1393.0" y="1465.8" font-size="29" font-weight="bold" text-anchor="middle">pH</text>
<text x="1036.3" y="796.0" font-size="35" font-weight="bold">Cu(II)-L4</text>
<text x="1101.5" y="898.9" font-size="29" class="lb" letter-spacing="0.6">Cu</text>
<text x="1277.4" y="954.0" font-size="29" class="lb" letter-spacing="0.6">CuHL</text>
<text x="1415.4" y="829.0" font-size="29" class="lb" letter-spacing="0.6">CuL</text>
<text x="1596.0" y="897.0" font-size="29" class="lb">CuH<tspan x="1654.2" font-size="20" dy="9">-2</tspan><tspan x="1671.9" dy="-9">L</tspan></text>
<line x1="1124.0" y1="873.9" x2="1132.1" y2="829.2" stroke="#000" stroke-width="1.15"/><polygon points="1134.1,817.9 1135.1,831.3 1132.1,829.2 1128.4,830.1" fill="#000"/>
<line x1="1309.6" y1="960.0" x2="1312.4" y2="1011.6" stroke="#000" stroke-width="1.15"/><polygon points="1313.0,1023.0 1308.9,1010.2 1312.4,1011.6 1315.7,1009.8" fill="#000"/>
<line x1="1443.6" y1="832.0" x2="1443.6" y2="876.6" stroke="#000" stroke-width="1.15"/><polygon points="1443.6,888.0 1440.2,875.0 1443.6,876.6 1447.0,875.0" fill="#000"/>
<line x1="1595.6" y1="882.0" x2="1569.7" y2="850.4" stroke="#000" stroke-width="1.15"/><polygon points="1562.4,841.6 1573.3,849.5 1569.7,850.4 1568.0,853.8" fill="#000"/>
</svg>
</body></html>
